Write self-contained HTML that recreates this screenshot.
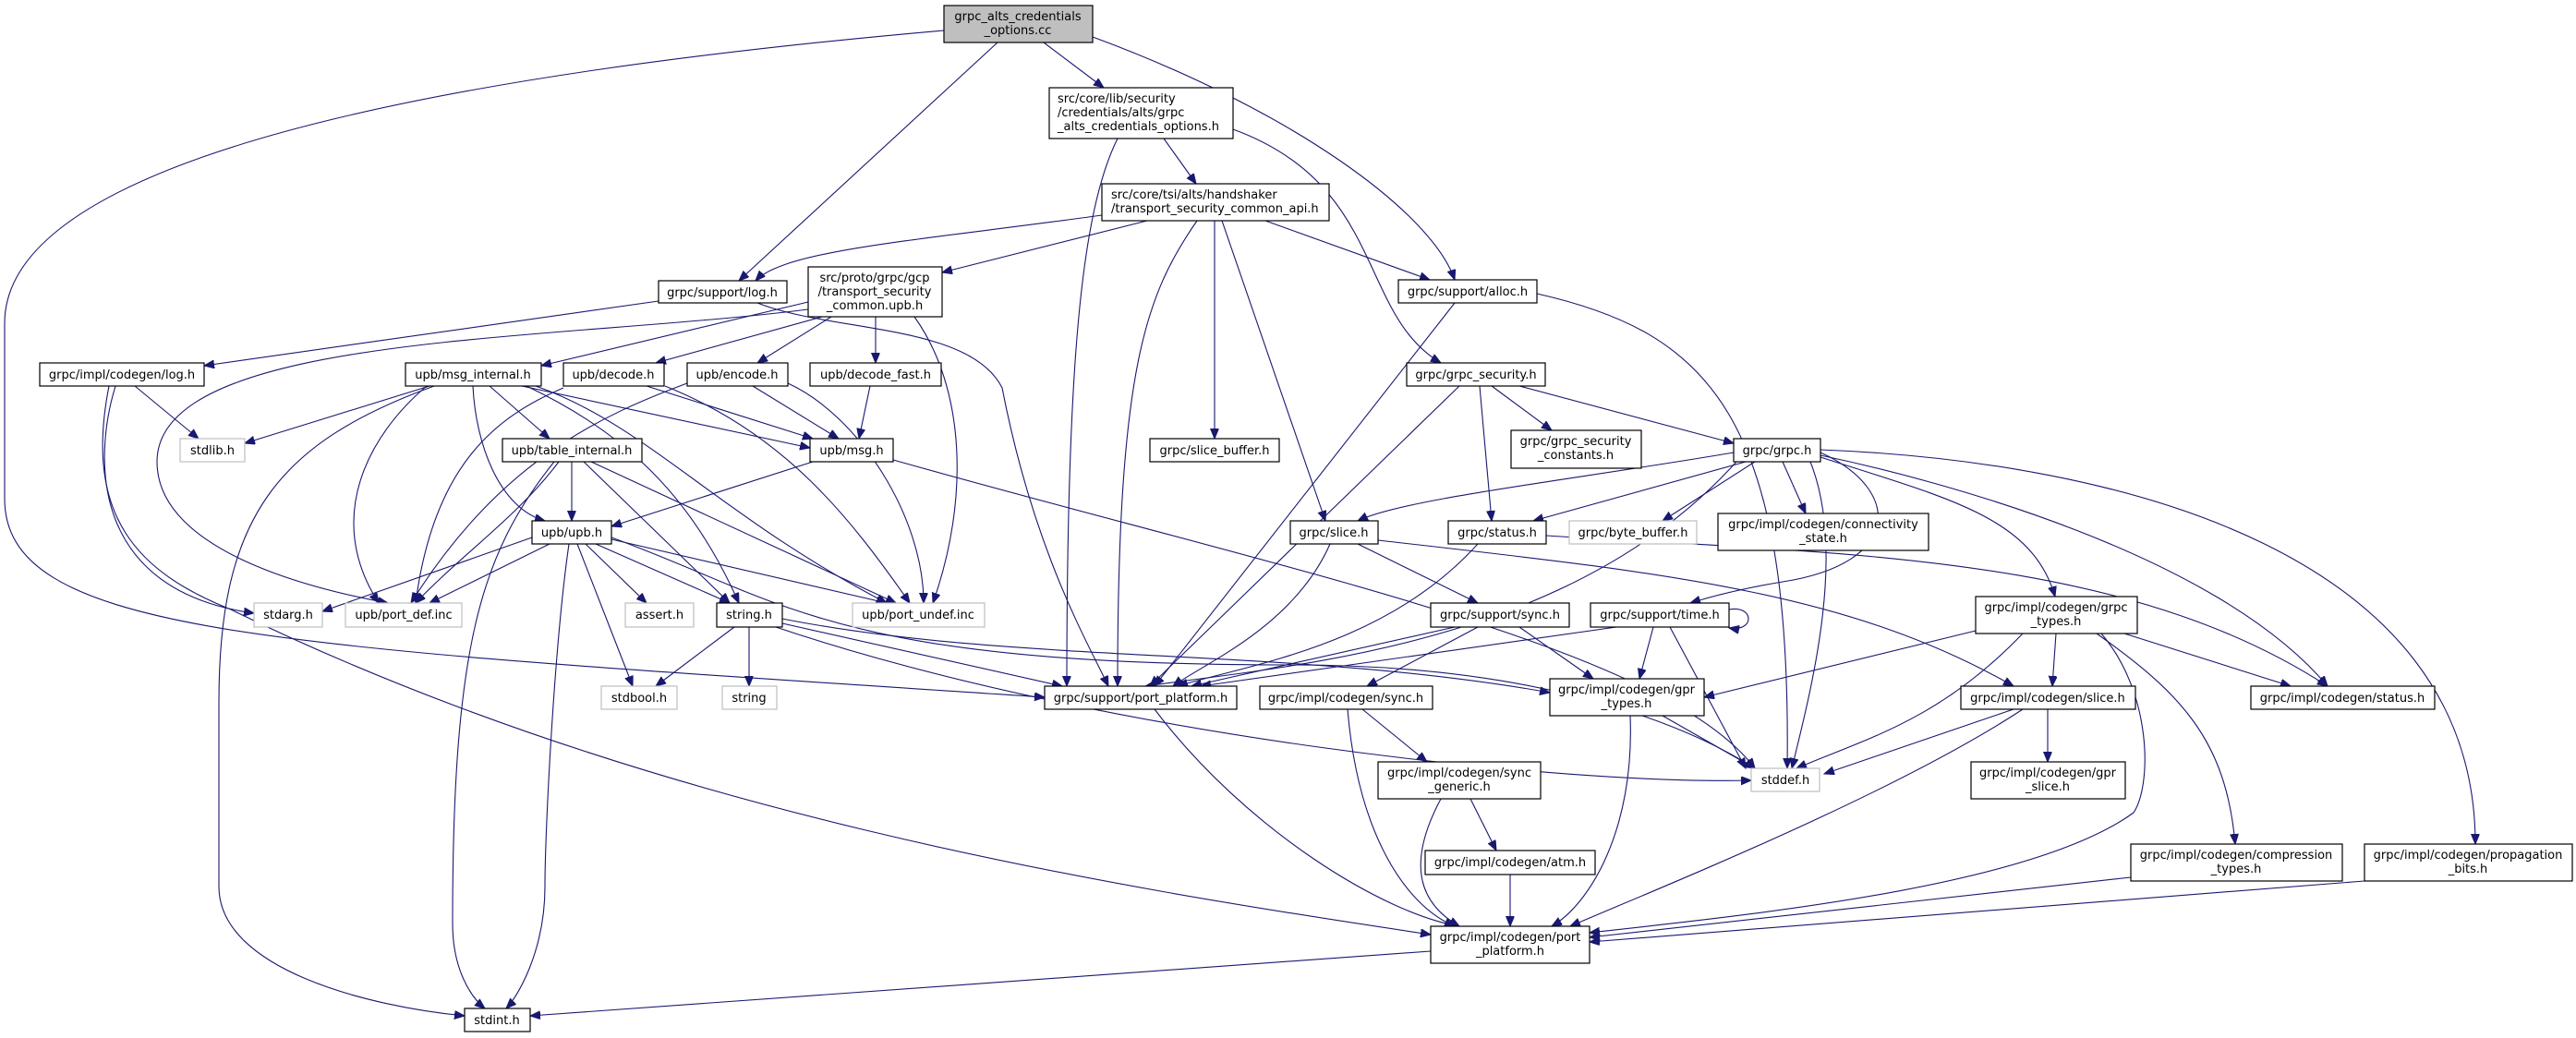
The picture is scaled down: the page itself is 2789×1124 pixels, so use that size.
<!DOCTYPE html>
<html><head><meta charset="utf-8"><style>
html,body{margin:0;padding:0;background:#fff;}
svg{display:block;}
text{font-family:"DejaVu Sans","Liberation Sans",sans-serif;font-size:13px;fill:#000;}
.n{fill:#fff;stroke:#000;stroke-width:1.2;}
.g{fill:#fff;stroke:#bfbfbf;stroke-width:1.2;}
.e{fill:none;stroke:#191970;stroke-width:1.1;marker-end:url(#a);}
</style></head><body>
<svg width="2789" height="1124" viewBox="0 0 2789 1124" xmlns="http://www.w3.org/2000/svg">
<defs><marker id="a" markerUnits="userSpaceOnUse" markerWidth="12" markerHeight="10" refX="11" refY="4.5" orient="auto"><path d="M0,0 L11,4.5 L0,9 z" fill="#191970" stroke="#191970"/></marker></defs>
<g>
<path class="e" d="M1080,46 L800,304"/>
<path class="e" d="M1130,46 L1195,95"/>
<path class="e" d="M1183,40 C1400,120 1550,230 1575,303"/>
<path class="e" d="M1022,33 C600,70 5,150 5,350 L5,540 C5,690 300,700 1131,755"/>
<path class="e" d="M1260,150 L1295,199"/>
<path class="e" d="M1210,150 C1170,230 1155,400 1155,743"/>
<path class="e" d="M1335,140 C1500,200 1470,340 1560,393"/>
<path class="e" d="M1193,233 C1000,260 850,270 818,304"/>
<path class="e" d="M1242,239 L1020,295"/>
<path class="e" d="M1370,239 L1548,303"/>
<path class="e" d="M1315,239 L1315,475"/>
<path class="e" d="M1323,239 L1435,564"/>
<path class="e" d="M1296,239 C1240,320 1210,400 1210,743"/>
<path class="e" d="M713,326 L221,396"/>
<path class="e" d="M820,328 C900,360 1050,350 1085,420 C1120,600 1180,700 1200,743"/>
<path class="e" d="M875,327 L586,396"/>
<path class="e" d="M890,343 L710,393"/>
<path class="e" d="M900,343 L820,393"/>
<path class="e" d="M948,343 L948,393"/>
<path class="e" d="M875,335 C600,370 170,360 170,500 C170,600 350,640 420,653"/>
<path class="e" d="M990,343 C1045,420 1050,540 1010,653"/>
<path class="e" d="M146,418 L215,475"/>
<path class="e" d="M125,418 C100,500 100,640 275,664"/>
<path class="e" d="M118,418 C90,560 150,620 250,660 C700,880 1200,960 1549,1012"/>
<path class="e" d="M465,418 L265,480"/>
<path class="e" d="M530,418 L595,475"/>
<path class="e" d="M512,418 C515,480 540,550 590,564"/>
<path class="e" d="M565,418 L877,485"/>
<path class="e" d="M462,418 C400,470 350,560 410,653"/>
<path class="e" d="M580,418 C700,460 780,560 960,653"/>
<path class="e" d="M570,418 C680,470 750,540 800,653"/>
<path class="e" d="M470,418 C300,480 237,560 237,760 L237,960 C237,1050 400,1090 503,1100"/>
<path class="e" d="M700,418 L880,475"/>
<path class="e" d="M610,420 C540,450 470,500 450,653"/>
<path class="e" d="M720,418 C850,470 920,560 985,653"/>
<path class="e" d="M815,418 L908,475"/>
<path class="e" d="M744,415 C650,450 540,500 445,653"/>
<path class="e" d="M853,415 C930,450 1000,560 1000,653"/>
<path class="e" d="M942,418 L930,475"/>
<path class="e" d="M619,500 L619,564"/>
<path class="e" d="M632,500 L790,653"/>
<path class="e" d="M605,500 C560,560 500,600 450,653"/>
<path class="e" d="M640,500 L970,653"/>
<path class="e" d="M600,500 C520,600 490,700 490,1000 C490,1050 510,1080 525,1092"/>
<path class="e" d="M880,500 L662,570"/>
<path class="e" d="M967,498 C1400,620 1800,700 1900,832"/>
<path class="e" d="M576,582 L349,662"/>
<path class="e" d="M595,589 L465,653"/>
<path class="e" d="M634,589 L700,653"/>
<path class="e" d="M645,589 L790,653"/>
<path class="e" d="M625,589 L685,743"/>
<path class="e" d="M616,589 C600,700 590,900 590,960 C590,1030 560,1080 548,1092"/>
<path class="e" d="M662,584 L960,653"/>
<path class="e" d="M662,582 C850,650 900,720 1400,720 C1700,720 1850,800 1900,832"/>
<path class="e" d="M795,679 L710,743"/>
<path class="e" d="M811,679 L811,743"/>
<path class="e" d="M847,675 L1150,743"/>
<path class="e" d="M847,670 C1100,720 1400,700 1678,750"/>
<path class="e" d="M840,679 C1200,800 1700,850 1896,845"/>
<path class="e" d="M1575,328 L1250,743"/>
<path class="e" d="M1664,318 C1850,360 1940,450 1935,832"/>
<path class="e" d="M1615,418 L1680,466"/>
<path class="e" d="M1645,418 L1877,480"/>
<path class="e" d="M1602,418 L1615,564"/>
<path class="e" d="M1580,418 L1245,743"/>
<path class="e" d="M1877,490 C1700,520 1520,540 1470,564"/>
<path class="e" d="M1890,500 L1660,564"/>
<path class="e" d="M1900,500 L1800,564"/>
<path class="e" d="M1930,500 L1955,556"/>
<path class="e" d="M1971,490 C2060,530 2060,610 1930,630 C1870,640 1840,650 1830,653"/>
<path class="e" d="M1971,495 C2110,540 2200,560 2225,646"/>
<path class="e" d="M1971,487 C2300,500 2680,600 2680,914"/>
<path class="e" d="M1960,500 C2000,600 1960,750 1940,832"/>
<path class="e" d="M1880,500 C1700,700 1400,720 1240,743"/>
<path class="e" d="M1971,493 C2100,520 2400,600 2520,743"/>
<path class="e" d="M1674,580 C2000,600 2300,600 2520,743"/>
<path class="e" d="M1492,585 C1800,620 2000,640 2180,743"/>
<path class="e" d="M1470,589 L1600,653"/>
<path class="e" d="M1440,589 C1400,680 1300,720 1270,743"/>
<path class="e" d="M1600,589 C1500,700 1350,720 1275,743"/>
<path class="e" d="M1575,679 L1290,743"/>
<path class="e" d="M1600,679 L1480,743"/>
<path class="e" d="M1645,679 L1725,735"/>
<path class="e" d="M1750,679 L1300,743"/>
<path class="e" d="M1790,679 L1775,735"/>
<path class="e" d="M1808,679 L1890,832"/>
<path class="e" d="M1872,660 C1900,655 1900,685 1872,680"/>
<path class="e" d="M1765,775 C1770,900 1720,980 1680,1003"/>
<path class="e" d="M1800,775 L1900,832"/>
<path class="e" d="M1250,768 C1350,900 1500,990 1580,1003"/>
<path class="e" d="M1475,768 L1545,825"/>
<path class="e" d="M1459,768 C1470,900 1520,980 1575,1003"/>
<path class="e" d="M1592,865 L1620,921"/>
<path class="e" d="M1560,865 C1520,940 1540,980 1580,1003"/>
<path class="e" d="M1635,947 L1635,1003"/>
<path class="e" d="M2139,683 L1845,755"/>
<path class="e" d="M2226,686 L2222,743"/>
<path class="e" d="M2300,686 L2480,743"/>
<path class="e" d="M2190,686 C2100,780 2020,800 1945,832"/>
<path class="e" d="M2270,686 C2360,750 2410,800 2420,914"/>
<path class="e" d="M2275,686 C2330,750 2330,850 2310,880 C2200,960 1900,990 1721,1010"/>
<path class="e" d="M2217,768 L2217,825"/>
<path class="e" d="M2180,768 L1975,838"/>
<path class="e" d="M2190,768 C2050,860 1800,960 1700,1003"/>
<path class="e" d="M2307,950 L1721,1015"/>
<path class="e" d="M2560,954 L1721,1020"/>
<path class="e" d="M1549,1030 L574,1100"/>
</g>
<g text-anchor="middle">
<rect x="1022" y="6" width="161" height="40" fill="#bfbfbf" stroke="#000" stroke-width="1.2"/>
<text x="1102" y="22">grpc_alts_credentials</text><text x="1102" y="37">_options.cc</text>
<rect class="n" x="1136" y="95" width="199" height="55"/>
<text x="1235" y="111" text-anchor="start" dx="-90">src/core/lib/security</text>
<text x="1235" y="126" text-anchor="start" dx="-90">/credentials/alts/grpc</text>
<text x="1235" y="141" text-anchor="start" dx="-90">_alts_credentials_options.h</text>
<rect class="n" x="1193" y="199" width="246" height="40"/>
<text x="1203" y="215" text-anchor="start">src/core/tsi/alts/handshaker</text>
<text x="1203" y="230" text-anchor="start">/transport_security_common_api.h</text>
<rect class="n" x="713" y="304" width="139" height="24"/><text x="782" y="321">grpc/support/log.h</text>
<rect class="n" x="875" y="289" width="145" height="54"/>
<text x="947" y="305">src/proto/grpc/gcp</text><text x="947" y="320">/transport_security</text><text x="947" y="335">_common.upb.h</text>
<rect class="n" x="1514" y="303" width="150" height="25"/><text x="1589" y="320">grpc/support/alloc.h</text>
<rect class="n" x="43" y="393" width="178" height="25"/><text x="132" y="410">grpc/impl/codegen/log.h</text>
<rect class="n" x="439" y="393" width="147" height="25"/><text x="512" y="410">upb/msg_internal.h</text>
<rect class="n" x="610" y="393" width="109" height="25"/><text x="664" y="410">upb/decode.h</text>
<rect class="n" x="744" y="393" width="109" height="25"/><text x="798" y="410">upb/encode.h</text>
<rect class="n" x="877" y="393" width="142" height="25"/><text x="948" y="410">upb/decode_fast.h</text>
<rect class="n" x="1523" y="393" width="150" height="25"/><text x="1598" y="410">grpc/grpc_security.h</text>
<rect class="g" x="195" y="475" width="70" height="25"/><text x="230" y="492">stdlib.h</text>
<rect class="n" x="544" y="475" width="151" height="25"/><text x="619" y="492">upb/table_internal.h</text>
<rect class="n" x="877" y="475" width="90" height="25"/><text x="922" y="492">upb/msg.h</text>
<rect class="n" x="1245" y="475" width="140" height="25"/><text x="1315" y="492">grpc/slice_buffer.h</text>
<rect class="n" x="1636" y="466" width="141" height="41"/><text x="1706" y="482">grpc/grpc_security</text><text x="1706" y="497">_constants.h</text>
<rect class="n" x="1877" y="475" width="94" height="25"/><text x="1924" y="492">grpc/grpc.h</text>
<rect class="n" x="1860" y="556" width="228" height="40"/><text x="1974" y="572">grpc/impl/codegen/connectivity</text><text x="1974" y="587">_state.h</text>
<rect class="n" x="576" y="564" width="86" height="25"/><text x="619" y="581">upb/upb.h</text>
<rect class="n" x="1397" y="564" width="95" height="25"/><text x="1444" y="581">grpc/slice.h</text>
<rect class="n" x="1568" y="564" width="106" height="25"/><text x="1621" y="581">grpc/status.h</text>
<rect class="g" x="1699" y="564" width="138" height="25"/><text x="1768" y="581">grpc/byte_buffer.h</text>
<rect class="g" x="275" y="653" width="74" height="26"/><text x="312" y="670">stdarg.h</text>
<rect class="g" x="374" y="653" width="126" height="26"/><text x="437" y="670">upb/port_def.inc</text>
<rect class="g" x="677" y="653" width="74" height="26"/><text x="714" y="670">assert.h</text>
<rect class="n" x="776" y="653" width="71" height="26"/><text x="811" y="670">string.h</text>
<rect class="g" x="923" y="653" width="143" height="26"/><text x="994" y="670">upb/port_undef.inc</text>
<rect class="n" x="1549" y="653" width="150" height="26"/><text x="1624" y="670">grpc/support/sync.h</text>
<rect class="n" x="1722" y="653" width="150" height="26"/><text x="1797" y="670">grpc/support/time.h</text>
<rect class="n" x="2139" y="646" width="175" height="40"/><text x="2226" y="662">grpc/impl/codegen/grpc</text><text x="2226" y="677">_types.h</text>
<rect class="g" x="651" y="743" width="82" height="25"/><text x="692" y="760">stdbool.h</text>
<rect class="g" x="782" y="743" width="59" height="25"/><text x="811" y="760">string</text>
<rect class="n" x="1131" y="743" width="208" height="25"/><text x="1235" y="760">grpc/support/port_platform.h</text>
<rect class="n" x="1364" y="743" width="187" height="25"/><text x="1457" y="760">grpc/impl/codegen/sync.h</text>
<rect class="n" x="1678" y="735" width="167" height="40"/><text x="1761" y="751">grpc/impl/codegen/gpr</text><text x="1761" y="766">_types.h</text>
<rect class="n" x="2123" y="743" width="189" height="25"/><text x="2217" y="760">grpc/impl/codegen/slice.h</text>
<rect class="n" x="2437" y="743" width="199" height="25"/><text x="2536" y="760">grpc/impl/codegen/status.h</text>
<rect class="n" x="1492" y="825" width="176" height="40"/><text x="1580" y="841">grpc/impl/codegen/sync</text><text x="1580" y="856">_generic.h</text>
<rect class="g" x="1896" y="832" width="74" height="25"/><text x="1933" y="849">stddef.h</text>
<rect class="n" x="2134" y="825" width="167" height="40"/><text x="2217" y="841">grpc/impl/codegen/gpr</text><text x="2217" y="856">_slice.h</text>
<rect class="n" x="1543" y="921" width="184" height="26"/><text x="1635" y="938">grpc/impl/codegen/atm.h</text>
<rect class="n" x="2307" y="914" width="229" height="40"/><text x="2421" y="930">grpc/impl/codegen/compression</text><text x="2421" y="945">_types.h</text>
<rect class="n" x="2560" y="914" width="225" height="40"/><text x="2672" y="930">grpc/impl/codegen/propagation</text><text x="2672" y="945">_bits.h</text>
<rect class="n" x="1549" y="1003" width="172" height="40"/><text x="1635" y="1019">grpc/impl/codegen/port</text><text x="1635" y="1034">_platform.h</text>
<rect class="n" x="503" y="1092" width="71" height="25"/><text x="538" y="1109">stdint.h</text>
</g>
</svg>
</body></html>
